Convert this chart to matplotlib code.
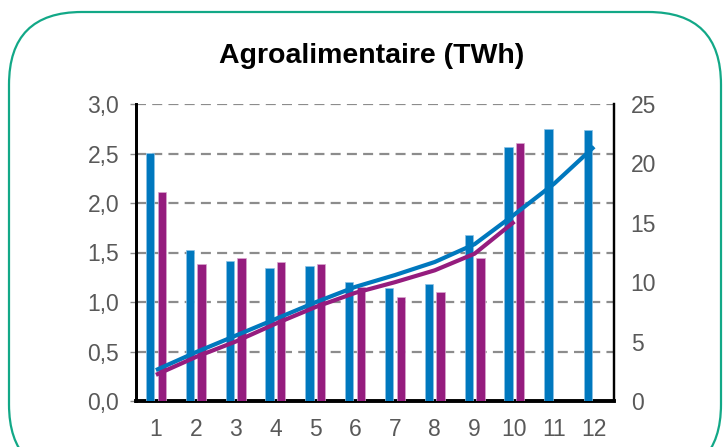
import matplotlib
matplotlib.use("Agg")
import matplotlib.pyplot as plt
from matplotlib.patches import FancyBboxPatch
import numpy as np

plt.rcParams['font.family'] = ['Liberation Sans', 'DejaVu Sans']

months = ['1', '2', '3', '4', '5', '6', '7', '8', '9', '10', '11', '12']
bars_blue = [2.51, 1.53, 1.41, 1.34, 1.36, 1.20, 1.14, 1.18, 1.68, 2.57, 2.75, 2.74]
bars_purple = [2.11, 1.38, 1.44, 1.40, 1.38, 1.15, 1.05, 1.10, 1.44, 2.61]
cum_blue = [2.6, 4.1, 5.5, 6.9, 8.3, 9.6, 10.6, 11.7, 13.2, 15.7, 18.3, 21.4]
cum_purple = [2.2, 3.7, 5.0, 6.5, 7.9, 9.1, 10.0, 11.0, 12.4, 15.1]
left_ticks = [0.0, 0.5, 1.0, 1.5, 2.0, 2.5, 3.0]
right_ticks = [0, 5, 10, 15, 20, 25]
title = "Agroalimentaire (TWh)"

BLUE = '#0078BE'
PURPLE = '#951C7E'
GREY = '#595959'

fig = plt.figure(figsize=(7.27, 4.47), dpi=100)
fig.patch.set_facecolor('white')

# rounded border
border = FancyBboxPatch((9/727, -30/447), 712/727, (447-12+30)/447,
                        boxstyle="round,pad=0,rounding_size=0.1",
                        transform=fig.transFigure, facecolor='none',
                        edgecolor='#12A887', linewidth=1.6, mutation_aspect=727/447)
fig.patches.append(border)

ax = fig.add_axes([136/727, 1-401/447, (614-136)/727, (401-104)/447])
ax2 = ax.twinx()

x = np.arange(len(months))
w = 0.21
ax.bar(x[:len(bars_blue)] - 0.145, bars_blue, width=w, color=BLUE, zorder=3,
       edgecolor='#8cc3e6', linewidth=0.5)
ax.bar(x[:len(bars_purple)] + 0.145, bars_purple, width=w, color=PURPLE, zorder=3,
       edgecolor='#d9a6cf', linewidth=0.5)

ax2.plot(x[:len(cum_blue)], cum_blue, color=BLUE, lw=3.0, zorder=4, solid_capstyle='butt')
ax2.plot(x[:len(cum_purple)], cum_purple, color=PURPLE, lw=3.0, zorder=4, solid_capstyle='butt')

ax.set_xlim(-0.5, len(months) - 0.5)
ax.set_ylim(0, 3.0)
ax2.set_ylim(0, 25)

ax.set_yticks(left_ticks)
ax.set_yticklabels([f"{v:.1f}".replace('.', ',') for v in left_ticks])
ax2.set_yticks(right_ticks)
ax2.set_yticklabels([str(v) for v in right_ticks])
ax.set_xticks(x)
ax.set_xticklabels(months)

ax.yaxis.grid(True, linestyle=(0, (4.5, 2.8)), color='#8c8c8c', linewidth=1.6, zorder=0)
ax.set_axisbelow(True)

for a in (ax, ax2):
    a.spines['top'].set_visible(False)
    a.spines['left'].set_color('black')
    a.spines['right'].set_color('black')
    a.spines['left'].set_linewidth(2.0)
    a.spines['right'].set_linewidth(1.6)
ax.spines['bottom'].set_linewidth(2.8)
ax.spines['bottom'].set_color('black')
ax2.spines['bottom'].set_visible(False)

ax.tick_params(axis='y', labelsize=16.5, colors=GREY, length=4, width=1, color='#8c8c8c', pad=8)
ax.tick_params(axis='x', labelsize=16.5, colors=GREY, length=0, pad=12)
ax2.tick_params(axis='y', labelsize=16.5, colors=GREY, length=0, pad=12)
ax2.tick_params(axis='x', length=0)

fig.text(372/727, 1-56/447, title, ha='center', va='center', fontsize=20.5,
         fontweight='bold', color='black')

fig.savefig('out.png', dpi=100, facecolor='white')
